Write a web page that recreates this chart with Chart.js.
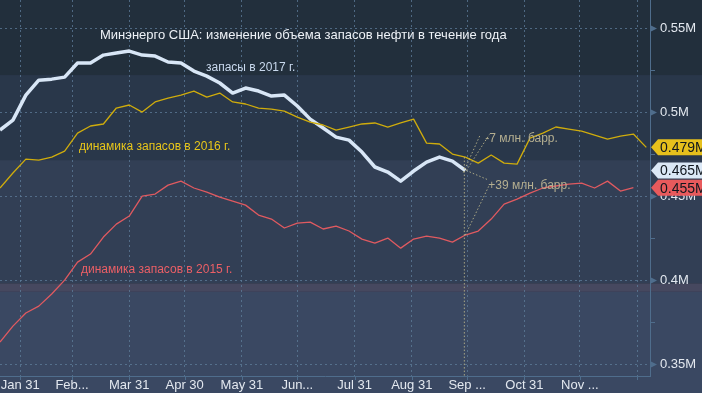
<!DOCTYPE html>
<html>
<head>
<meta charset="utf-8">
<script src="https://cdn.jsdelivr.net/npm/chart.js@4/dist/chart.umd.min.js"></script>
<style>
  html, body { margin: 0; padding: 0; background: #222f3c; }
  #wrap { width: 702px; height: 393px; }
</style>
</head>
<body>
<div id="wrap"><canvas id="c"></canvas></div>
<script>
// weekly readings, first one on day 20 of the year
const firstDay = 20;
const stocks2017 = [0.4893, 0.4952, 0.5101, 0.5190, 0.5196, 0.5208, 0.5292, 0.5292, 0.5339, 0.5351,
  0.5363, 0.5339, 0.5333, 0.5298, 0.5292, 0.5244, 0.5214, 0.5173, 0.5113, 0.5143,
  0.5125, 0.5095, 0.5101, 0.5036, 0.4958, 0.4905, 0.4851, 0.4833, 0.4762, 0.4673,
  0.4643, 0.4589, 0.4649, 0.4702, 0.4732, 0.4708, 0.4652];
const stocks2016 = [0.4548, 0.4637, 0.4720, 0.4714, 0.4732, 0.4768, 0.4875, 0.4917, 0.4929, 0.5024,
  0.5042, 0.5000, 0.5060, 0.5083, 0.5101, 0.5125, 0.5089, 0.5113, 0.5060, 0.5048,
  0.5024, 0.5018, 0.5006, 0.4970, 0.4940, 0.4923, 0.4893, 0.4911, 0.4929, 0.4935,
  0.4911, 0.4935, 0.4958, 0.4815, 0.4810, 0.4750, 0.4732, 0.4696, 0.4744, 0.4696,
  0.4690, 0.4845, 0.4875, 0.4911, 0.4899, 0.4887, 0.4863, 0.4839, 0.4857, 0.4869,
  0.4790];
const stocks2015 = [0.3631, 0.3726, 0.3804, 0.3845, 0.3917, 0.4000, 0.4107, 0.4155, 0.4256, 0.4333,
  0.4381, 0.4500, 0.4512, 0.4565, 0.4589, 0.4548, 0.4524, 0.4494, 0.4470, 0.4446,
  0.4387, 0.4363, 0.4310, 0.4339, 0.4345, 0.4304, 0.4321, 0.4292, 0.4244, 0.4220,
  0.4250, 0.4190, 0.4244, 0.4262, 0.4250, 0.4226, 0.4268, 0.4292, 0.4363, 0.4452,
  0.4482, 0.4518, 0.4548, 0.4560, 0.4571, 0.4577, 0.4548, 0.4589, 0.4530, 0.4550];

const monthDays = [31, 59, 90, 120, 151, 181, 212, 243, 273, 304, 334, 365];
const monthLabels = ["Jan 31", "Feb...", "Mar 31", "Apr 30", "May 31", "Jun...", "Jul 31",
  "Aug 31", "Sep ...", "Oct 31", "Nov ...", ""];
const yTicks = [0.35, 0.375, 0.4, 0.425, 0.45, 0.475, 0.5, 0.525, 0.55];
const yLabels = ["0.35M", "", "0.4M", "", "0.45M", "", "0.5M", "", "0.55M"];

// background bands (value ranges)
const bands = [
  [0.522, 1, "#222f3c"],
  [0.4714, 0.522, "#29374a"],
  [0.398, 0.4714, "#323f55"],
  [0.393, 0.398, "#46485f"],
  [0, 0.393, "#3a4862"],
];

const toPts = (arr) => arr.map((v, i) => ({ x: firstDay + 7 * i, y: v }));
const FONT = "Liberation Sans";
const gridColor = "rgba(95,125,155,0.75)";
const axisColor = "#4f6d8c";

const bandsPlugin = {
  id: "bands",
  beforeDraw(chart) {
    const ctx = chart.ctx, y = chart.scales.y;
    ctx.save();
    bands.forEach(([lo, hi, col]) => {
      let top = y.getPixelForValue(hi), bot = y.getPixelForValue(lo);
      top = Math.max(top, 0);
      bot = Math.min(bot, chart.height);
      if (lo === 0) bot = chart.height;
      ctx.fillStyle = col;
      ctx.fillRect(0, top, chart.width, bot - top);
    });
    ctx.restore();
  },
};

const notesPlugin = {
  id: "notes",
  afterDatasetsDraw(chart) {
    const ctx = chart.ctx, x = chart.scales.x, y = chart.scales.y, a = chart.chartArea;
    const i = stocks2017.length - 1;
    const px = x.getPixelForValue(firstDay + 7 * i);
    const pw = y.getPixelForValue(stocks2017[i]);
    const py = y.getPixelForValue(stocks2016[i]);
    const pr = y.getPixelForValue(stocks2015[i]);
    ctx.save();
    ctx.strokeStyle = "rgba(190,185,140,0.85)";
    ctx.lineWidth = 1;
    ctx.setLineDash([1.5, 2]);
    const seg = (x1, y1, x2, y2) => {
      ctx.beginPath();
      ctx.moveTo(x1, y1);
      ctx.lineTo(x2, y2);
      ctx.stroke();
    };
    seg(px - 1, py, px - 1, a.bottom);
    seg(px - 2, pw + 2, px + 15, pw - 36);
    seg(px + 1, pw, px + 24, pw - 36);
    seg(px + 1, pw, px + 22, pw + 9);
    seg(px, pr, px + 24, pr - 50);
    ctx.setLineDash([]);

    ctx.textBaseline = "middle";
    ctx.textAlign = "left";
    ctx.font = "13px " + FONT;
    ctx.fillStyle = "#eef2f7";
    ctx.fillText("Минэнерго США: изменение объема запасов нефти в течение года", a.left + 100, 35);
    ctx.font = "12px " + FONT;
    ctx.fillStyle = "#c9d9ee";
    ctx.fillText("запасы в 2017 г.", a.left + 206, 68);
    ctx.fillStyle = "#e8c61a";
    ctx.fillText("динамика запасов в 2016 г.", a.left + 79, 147);
    ctx.fillStyle = "#ec5f66";
    ctx.fillText("динамика запасов в 2015 г.", a.left + 81, 270);
    ctx.fillStyle = "#b4ae90";
    ctx.fillText("-7 млн. барр.", px + 20, pw - 32);
    ctx.fillText("+39 млн. барр.", px + 23, pr - 49);
    ctx.restore();
  },
  afterDraw(chart) {
    const ctx = chart.ctx, x = chart.scales.x, y = chart.scales.y, a = chart.chartArea;
    ctx.save();
    ctx.strokeStyle = axisColor;
    ctx.fillStyle = axisColor;
    ctx.lineWidth = 1;
    // bottom ticks
    monthDays.forEach((d) => {
      const p = Math.round(x.getPixelForValue(d)) + 0.5;
      ctx.beginPath();
      ctx.moveTo(p, a.bottom);
      ctx.lineTo(p, a.bottom + 4);
      ctx.stroke();
    });
    // right ticks
    yTicks.forEach((v, k) => {
      const p = Math.round(y.getPixelForValue(v)) + 0.5;
      if (yLabels[k]) {
        ctx.beginPath();
        ctx.moveTo(a.right, p - 3.5);
        ctx.lineTo(a.right + 7, p);
        ctx.lineTo(a.right, p + 3.5);
        ctx.closePath();
        ctx.fill();
      } else {
        ctx.beginPath();
        ctx.moveTo(a.right, p);
        ctx.lineTo(a.right + 5, p);
        ctx.stroke();
      }
    });
    // last value tags
    const tags = [
      [stocks2015, "#e85a5c"],
      [stocks2016, "#e6c01c"],
      [stocks2017, "#dbe8f6"],
    ];
    ctx.font = "14px " + FONT;
    ctx.textBaseline = "middle";
    ctx.textAlign = "left";
    tags.forEach(([arr, col]) => {
      const v = arr[arr.length - 1];
      const p = y.getPixelForValue(v);
      const l = a.right + 1;
      ctx.fillStyle = col;
      ctx.beginPath();
      ctx.moveTo(l, p);
      ctx.lineTo(l + 7, p - 8);
      ctx.lineTo(chart.width, p - 8);
      ctx.lineTo(chart.width, p + 8);
      ctx.lineTo(l + 7, p + 8);
      ctx.closePath();
      ctx.fill();
      ctx.fillStyle = "#10161e";
      ctx.fillText(v.toFixed(3) + "M", l + 9, p + 1);
    });
    ctx.restore();
  },
};

new Chart(document.getElementById("c"), {
  type: "line",
  data: {
    datasets: [
      { label: "2015", data: toPts(stocks2015), borderColor: "#e05a60", borderWidth: 1.3 },
      { label: "2016", data: toPts(stocks2016), borderColor: "#cfac0c", borderWidth: 1.3 },
      { label: "2017", data: toPts(stocks2017), borderColor: "#d8e6f6", borderWidth: 3.5 },
    ],
  },
  options: {
    responsive: true,
    maintainAspectRatio: false,
    animation: false,
    layout: { padding: 0 },
    elements: { point: { radius: 0 }, line: { tension: 0, borderJoinStyle: "round" } },
    plugins: { legend: { display: false }, tooltip: { enabled: false } },
    scales: {
      x: {
        type: "linear",
        min: 20,
        max: 372,
        afterBuildTicks: (s) => { s.ticks = monthDays.map((d) => ({ value: d })); },
        afterFit: (s) => {
          s.height = 17;
          s.paddingLeft = 0;
          s.paddingRight = 0;
        },
        ticks: {
          autoSkip: false,
          maxRotation: 0,
          padding: 2,
          color: "#e3e8ef",
          font: { family: FONT, size: 13 },
          callback: (v, i) => monthLabels[i],
        },
        grid: { color: gridColor, drawTicks: false },
        border: { color: axisColor, dash: [2, 3] },
      },
      y: {
        position: "right",
        min: 0.3429,
        max: 0.5667,
        afterBuildTicks: (s) => { s.ticks = yTicks.map((v) => ({ value: v })); },
        afterFit: (s) => {
          s.width = 52;
          s.paddingTop = 0;
          s.paddingBottom = 0;
        },
        ticks: {
          padding: 10,
          color: "#e3e8ef",
          font: { family: FONT, size: 13 },
          callback: (v, i) => yLabels[i],
        },
        grid: {
          color: (c) => (c.tick && yLabels[yTicks.indexOf(c.tick.value)] ? gridColor : "transparent"),
          drawTicks: false,
        },
        border: { color: axisColor, dash: [2, 3] },
      },
    },
  },
  plugins: [bandsPlugin, notesPlugin],
});
</script>
</body>
</html>
